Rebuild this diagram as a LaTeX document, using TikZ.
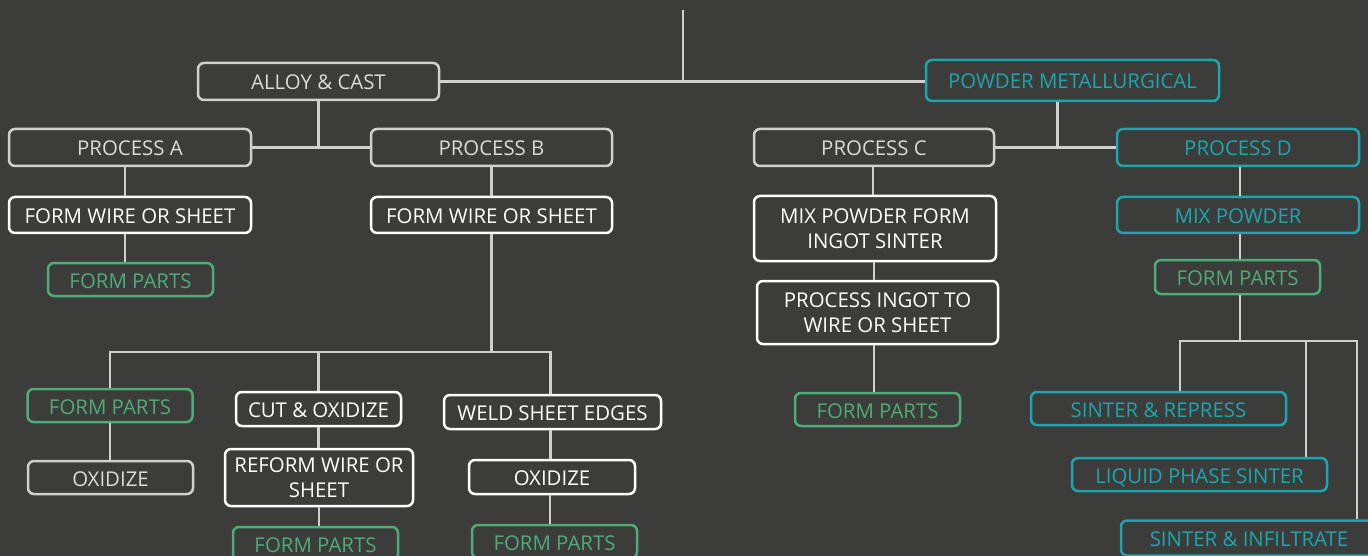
\documentclass[tikz,border=0pt]{standalone}
\usepackage{fontspec}
\setmainfont{Open Sans}
\definecolor{bgdark}{RGB}{60,60,58}
\definecolor{greyline}{RGB}{208,208,206}
\definecolor{greytext}{RGB}{218,218,216}
\definecolor{tealc}{RGB}{28,166,176}
\definecolor{greenc}{RGB}{78,172,120}
\tikzset{
  box/.style={draw, rounded corners=6pt, line width=2.5pt, inner sep=0pt,
    align=center, font=\fontsize{20.4}{24.5}\selectfont,
    text height=17pt, text depth=0pt},
  twoline/.style={text height={}, text depth={}},
  greybox/.style={box, draw=greyline, text=greytext},
  whitebox/.style={box, draw=white, text=white},
  tealbox/.style={box, draw=tealc, text=tealc},
  greenbox/.style={box, draw=greenc, text=greenc},
  sz/.style 2 args={minimum width=#1pt, minimum height=#2pt},
  link/.style={draw=greyline, line width=2.5pt},
}
\begin{document}
\begin{tikzpicture}[x=1pt, y=-1pt]
\useasboundingbox (0,0) rectangle (1368,556);
\fill[bgdark] (0,0) rectangle (1368,556);

% top level
\node[greybox, sz={241}{37}] (alloy) at (318.5,81.5) {ALLOY \& CAST};
\node[tealbox, sz={293}{41}] (pm) at (1072.5,80.5) {POWDER METALLURGICAL};

% processes
\node[greybox, sz={242}{37}] (pa) at (130,147.5) {PROCESS A};
\node[greybox, sz={241}{37}] (pb) at (491.5,147.5) {PROCESS B};
\node[greybox, sz={240}{37}] (pc) at (874,147.5) {PROCESS C};
\node[tealbox, sz={242}{37}] (pd) at (1238,147.5) {PROCESS D};

% process A
\node[whitebox, sz={242}{36}] (fwa) at (130,215) {FORM WIRE OR SHEET};
\node[greenbox, sz={165}{33}] (fpa) at (130.5,279.5) {FORM PARTS};

% process B
\node[whitebox, sz={241}{36}] (fwb) at (491.5,215) {FORM WIRE OR SHEET};
\node[greenbox, sz={165}{33}] (fp1) at (110,405.5) {FORM PARTS};
\node[greybox, sz={165}{33}] (ox1) at (110.5,477.5) {OXIDIZE};
\node[whitebox, sz={165}{34}] (cut) at (318.5,409) {CUT \& OXIDIZE};
\node[whitebox, twoline, sz={188}{57}] (reform) at (319,477.5) {REFORM WIRE OR\\SHEET};
\node[greenbox, sz={165}{33}] (fp2) at (315.5,543.5) {FORM PARTS};
\node[whitebox, sz={217}{34}] (weld) at (552.5,412) {WELD SHEET EDGES};
\node[whitebox, sz={166}{34}] (ox2) at (552,477) {OXIDIZE};
\node[greenbox, sz={165}{33}] (fp3) at (554.5,541.5) {FORM PARTS};

% process C
\node[whitebox, twoline, sz={242}{65}] (mix) at (875,228.5) {MIX POWDER FORM\\INGOT SINTER};
\node[whitebox, twoline, sz={241}{63}] (ingot) at (877.5,312.5) {PROCESS INGOT TO\\WIRE OR SHEET};
\node[greenbox, sz={165}{33}] (fpc) at (877.5,409.5) {FORM PARTS};

% process D
\node[tealbox, sz={242}{36}] (mixp) at (1238,215) {MIX POWDER};
\node[greenbox, sz={165}{34}] (fpd) at (1237.5,277) {FORM PARTS};
\node[tealbox, sz={255}{33}] (sr) at (1158.5,408.5) {SINTER \& REPRESS};
\node[tealbox, sz={255}{33}] (lps) at (1199.5,474.5) {LIQUID PHASE SINTER};
\node[tealbox, sz={256}{35}] (si) at (1249,538) {SINTER \& INFILTRATE};

% junction points
\coordinate (root) at (683,10);
\coordinate (bj) at (491,352);
\coordinate (dj) at (1240,341);
\coordinate (d1) at (1180,341);
\coordinate (d2) at (1306,341);
\coordinate (d3) at (1357,341);

% root connectors
\draw[link] (alloy.east) -- (alloy.east -| pm.west);
\draw[link] (root) -- (root |- alloy.east);

% level two
\draw[link] (pa.east) -- (pb.west);
\draw[link] (alloy.south) -- (alloy.south |- pa.east);
\draw[link] (pc.east) -- (pd.west);
\draw[link] ([xshift=-15pt]pm.south) -- ([xshift=-15pt]pm.south |- pc.east);

% process A chain
\draw[link] ([xshift=-5pt]pa.south) -- ([xshift=-5pt]pa.south |- fwa.north);
\draw[link] ([xshift=-5pt]fwa.south) -- ([xshift=-5pt]fwa.south |- fpa.north);

% process B branches
\draw[link] (pb.south) -- (pb.south |- fwb.north);
\draw[link] (fwb.south) -- (fwb.south |- bj);
\draw[link] (fp1.north) -- (fp1.north |- bj) -- ([xshift=-2pt]weld.north |- bj) -- ([xshift=-2pt]weld.north);
\draw[link] (cut.north) -- (cut.north |- bj);
\draw[link] (fp1.south) -- (fp1.south |- ox1.north);
\draw[link] (cut.south) -- (cut.south |- reform.north);
\draw[link] (reform.south) -- (reform.south |- fp2.north);
\draw[link] ([xshift=-2pt]weld.south) -- ([xshift=-2pt]weld.south |- ox2.north);
\draw[link] ([xshift=-2pt]ox2.south) -- ([xshift=-2pt]ox2.south |- fp3.north);

% process C chain
\draw[link] ([xshift=-1pt]pc.south) -- ([xshift=-1pt]pc.south |- mix.north);
\draw[link] ([xshift=-1pt]mix.south) -- ([xshift=-1pt]mix.south |- ingot.north);
\draw[link] ([xshift=-3.5pt]ingot.south) -- ([xshift=-3.5pt]ingot.south |- fpc.north);

% process D chain
\draw[link] ([xshift=2pt]pd.south) -- ([xshift=2pt]pd.south |- mixp.north);
\draw[link] ([xshift=2pt]mixp.south) -- ([xshift=2pt]mixp.south |- fpd.north);
\draw[link] (fpd.south -| dj) -- (dj);
\draw[link] (d1 |- sr.north) -- (d1) -- (d3) -- (d3 |- si.north);
\draw[link] (d2) -- (d2 |- lps.north);
\end{tikzpicture}
\end{document}
